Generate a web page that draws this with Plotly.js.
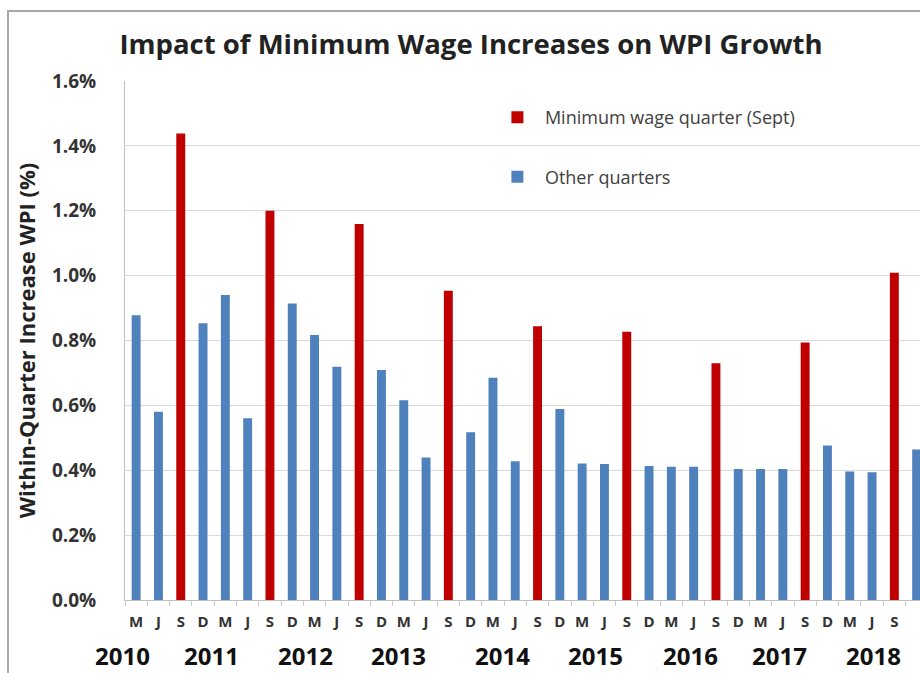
<!DOCTYPE html>
<html>
<head>
<meta charset="utf-8">
<script src="https://cdn.plot.ly/plotly-3.0.1.min.js"></script>
<style>html,body{margin:0;padding:0;background:#fff;}#chart{width:920px;height:673px;}</style>
</head>
<body>
<div id="chart"></div>
<script>
// ---- data ----
const quarters = ['M','J','S','D','M','J','S','D','M','J','S','D','M','J','S','D','M','J','S','D',
                  'M','J','S','D','M','J','S','D','M','J','S','D','M','J','S','D'];
const wpiGrowth = [0.878,0.580,1.438,0.853, 0.940,0.560,1.200,0.914, 0.817,0.719,1.159,0.709,
                   0.616,0.439,0.953,0.517, 0.685,0.428,0.844,0.589, 0.421,0.419,0.827,0.413,
                   0.411,0.411,0.730,0.404, 0.404,0.404,0.794,0.476, 0.396,0.394,1.009,0.464];
const years = ['2010','2011','2012','2013','2014','2015','2016','2017','2018'];
const yTicks = [0,0.2,0.4,0.6,0.8,1.0,1.2,1.4,1.6];
const yTickLabels = ['0.0%','0.2%','0.4%','0.6%','0.8%','1.0%','1.2%','1.4%','1.6%'];
const seriesNames = ['Minimum wage quarter (Sept)','Other quarters'];

// ---- layout config ----
const xRange = [-0.5, 35.15];
const yearLabelX = [-0.6, 3.4, 7.6, 11.75, 16.45, 20.6, 24.85, 28.85, 33.05];
const red = '#C00000', blue = '#4F81BD';
const toPaper = v => (v - xRange[0]) / (xRange[1] - xRange[0]);

const idx = quarters.map((q,i)=>i);
const sIdx = idx.filter(i=>quarters[i]==='S');
const oIdx = idx.filter(i=>quarters[i]!=='S');

const traces = [
  {type:'bar', name:seriesNames[0], x:sIdx, y:sIdx.map(i=>wpiGrowth[i]),
   marker:{color:red}, width:0.4, legendgroup:'a'},
  {type:'bar', name:seriesNames[1], x:oIdx, y:oIdx.map(i=>wpiGrowth[i]),
   marker:{color:blue}, width:0.4, legendgroup:'b'}
];

const annotations = years.map((y,k)=>({
  text:y, x:toPaper(yearLabelX[k]), xref:'paper', y:0, yref:'paper', yshift:-55,
  xanchor:'center', yanchor:'middle', showarrow:false,
  font:{family:'Open Sans, sans-serif', size:24, color:'#111', weight:700}
}));

const layout = {
  width:920, height:673,
  margin:{l:125, r:0, t:81, b:73},
  paper_bgcolor:'#fff', plot_bgcolor:'#fff',
  barmode:'overlay',
  title:{text:'Impact of Minimum Wage Increases on WPI Growth', x:471/920, xanchor:'center',
         y:1-44/673, yanchor:'middle',
         font:{family:'Open Sans, sans-serif', size:27.5, color:'#222', weight:700}},
  xaxis:{range:xRange, tickmode:'array', tickvals:idx, ticktext:quarters,
         showgrid:false, zeroline:false, showline:true, linecolor:'#bfbfbf', linewidth:1,
         ticks:'', ticklabelstandoff:8,
         tickfont:{family:'Open Sans, sans-serif', size:15, color:'#333', weight:700},
         minor:{tickmode:'linear', tick0:-0.5, dtick:1, ticks:'outside', ticklen:5, tickcolor:'#c8c8c8', showgrid:false}},
  yaxis:{range:[0,1.6], tickmode:'array', tickvals:yTicks, ticktext:yTickLabels,
         showgrid:true, gridcolor:'#d9d9d9', gridwidth:1, zeroline:false,
         showline:true, linecolor:'#bfbfbf', linewidth:1, ticks:'', ticklabelstandoff:24,
         tickfont:{family:'Open Sans, sans-serif', size:19, color:'#333', weight:700},
         title:{text:'Within-Quarter Increase WPI (%)', standoff:10,
                font:{family:'Open Sans, sans-serif', size:22, color:'#222', weight:700}}},
  showlegend:true,
  legend:{x:0.459, y:0.965, xanchor:'left', yanchor:'top', bgcolor:'rgba(0,0,0,0)',
          traceorder:'grouped', tracegroupgap:33, itemwidth:45,
          font:{family:'Open Sans, sans-serif', size:18, color:'#404040'}},
  annotations:annotations,
  shapes:[
    {type:'rect', xref:'paper', yref:'paper', layer:'above',
     x0:(8-125)/795, x1:(940-125)/795, y0:(600-11)/519, y1:(600-690)/519,
     line:{color:'#a8a8a8', width:2}, fillcolor:'rgba(0,0,0,0)'}
  ]
};

Plotly.newPlot('chart', traces, layout, {displayModeBar:false, staticPlot:true});
</script>
</body>
</html>
